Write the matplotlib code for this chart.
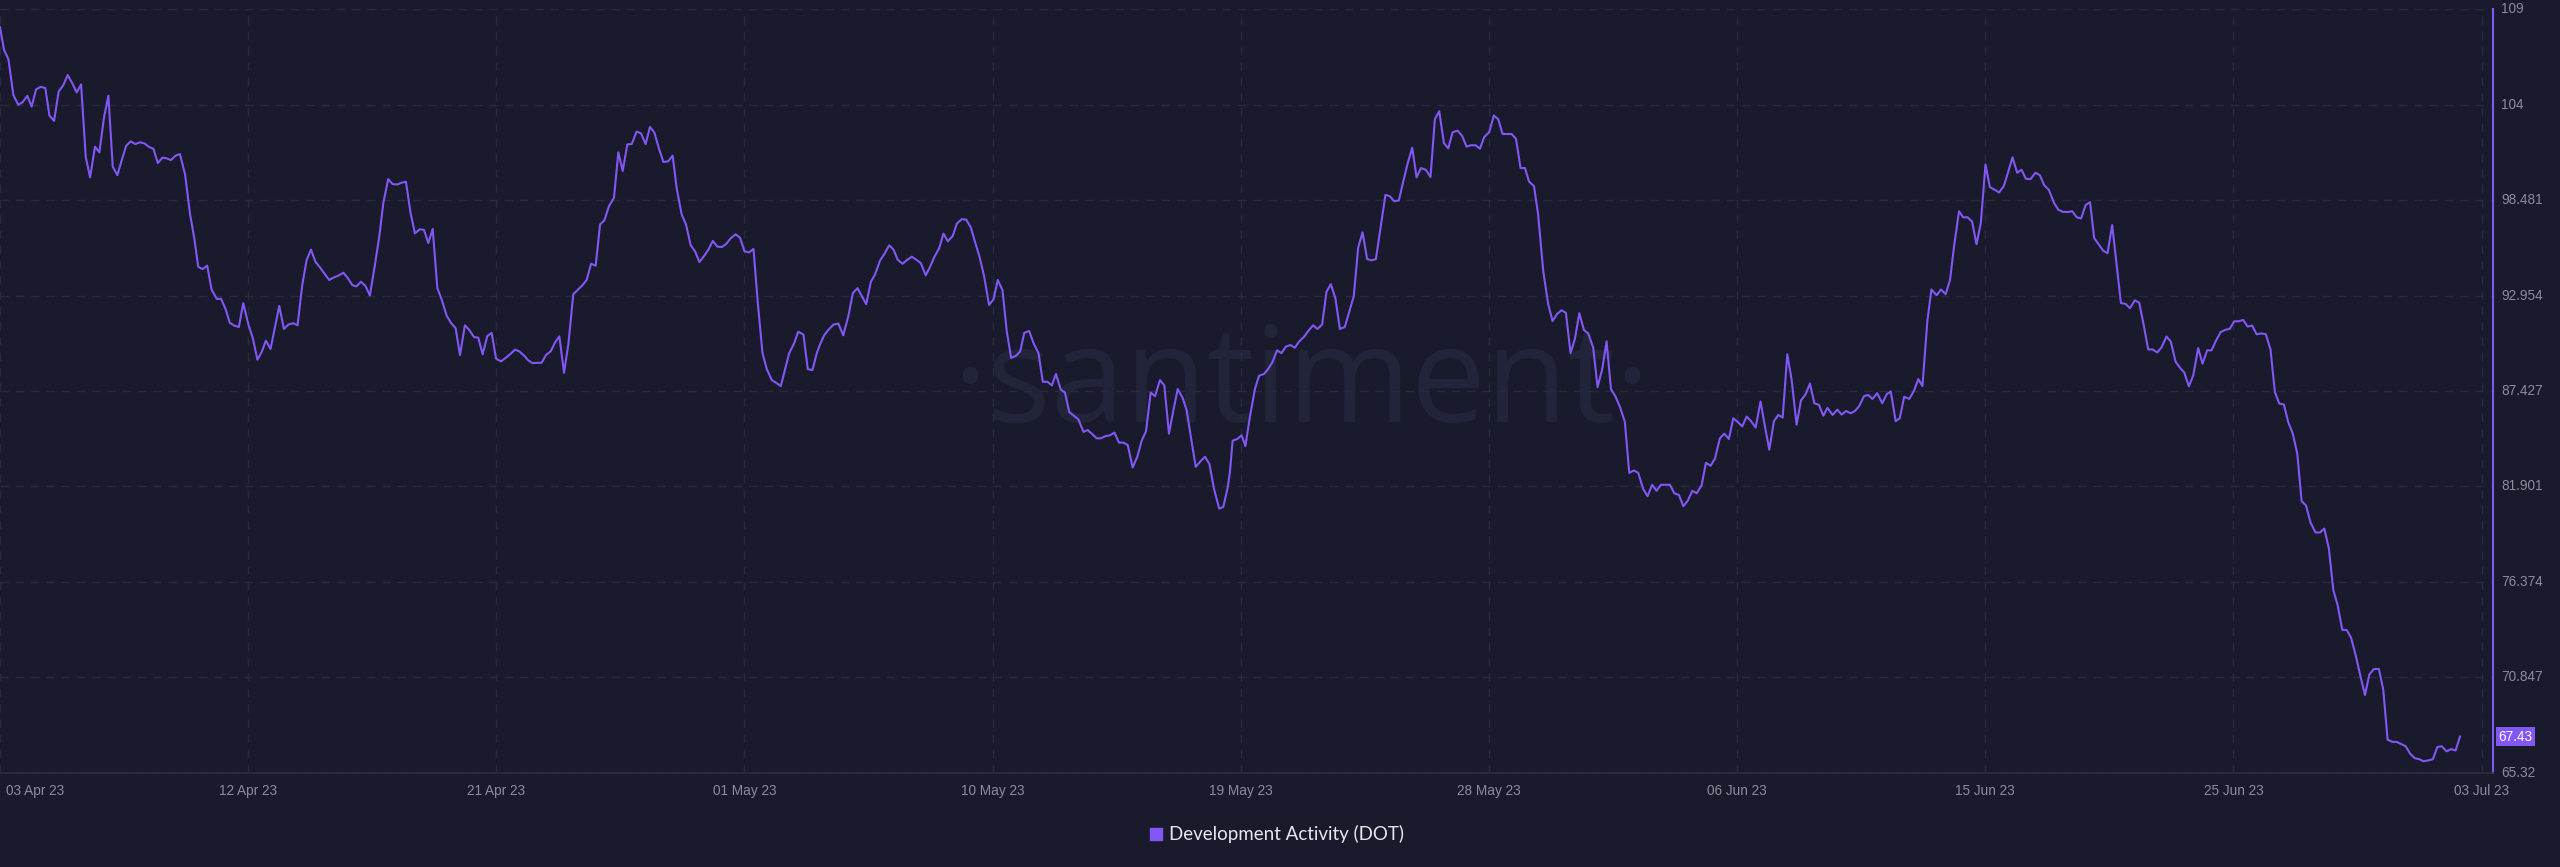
import numpy as np
import pandas as pd
import matplotlib
matplotlib.use("Agg")
import matplotlib.pyplot as plt
import matplotlib.transforms as mtransforms

# Development activity (DOT): days since 03 Apr 2023 and value
days = [
    0.00, 0.15, 0.31, 0.49, 0.67, 0.83, 1.00, 1.16, 1.32, 1.49, 1.66, 1.81, 1.98, 2.15, 2.32, 2.48,
    2.65, 2.81, 2.97, 3.14, 3.30, 3.48, 3.64, 3.81, 3.97, 4.13, 4.30, 4.46, 4.62, 4.79, 4.95, 5.13,
    5.29, 5.46, 5.62, 5.78, 5.95, 6.11, 6.26, 6.43, 6.59, 6.78, 6.96, 7.12, 7.26, 7.42, 7.59, 7.75,
    7.94, 8.10, 8.27, 8.42, 8.58, 8.75, 8.91, 9.10, 9.26, 9.43, 9.58, 9.74, 9.91, 10.07, 10.23, 10.40,
    10.56, 10.74, 10.90, 11.07, 11.23, 11.39, 11.56, 11.72, 11.88, 12.06, 12.23, 12.39, 12.58, 12.74,
    12.91, 13.06, 13.22, 13.39, 13.55, 13.74, 13.90, 14.04, 14.22, 14.38, 14.55, 14.71, 14.87, 15.04,
    15.20, 15.38,
    15.53, 15.69, 15.85, 16.02, 16.18, 16.36, 16.52, 16.69, 16.85, 17.03, 17.19, 17.36, 17.52, 17.68,
    17.85, 18.01, 18.17, 18.35, 18.52, 18.68, 18.87, 19.02, 19.20, 19.35, 19.51, 19.68, 19.84, 20.00,
    20.17, 20.33, 20.49, 20.66, 20.82, 21.00, 21.16, 21.33, 21.49, 21.65, 21.82, 21.98, 22.14, 22.31,
    22.49, 22.65, 22.81, 22.98, 23.14, 23.32, 23.48, 23.65, 23.81, 23.97, 24.14, 24.30, 24.48, 24.64,
    24.79, 24.97, 25.13, 25.30, 25.46, 25.62, 25.79, 25.95, 26.11, 26.28, 26.44, 26.59, 26.77, 26.95,
    27.11, 27.27, 27.44, 27.60, 27.76, 27.93, 28.09, 28.27, 28.43, 28.60, 28.76, 28.91, 29.09, 29.24,
    29.43, 29.59, 29.76, 29.92,
    30.04, 30.19, 30.34, 30.53, 30.71, 30.89, 31.08, 31.24, 31.41, 31.57, 31.73, 31.90, 32.05, 32.24,
    32.40, 32.57, 32.73, 32.88, 33.06, 33.21, 33.40, 33.56, 33.73, 33.91, 34.07, 34.23, 34.40, 34.56,
    34.72, 34.90, 35.05, 35.23, 35.39, 35.56, 35.72, 35.88, 36.05, 36.23, 36.39, 36.55, 36.72, 36.88,
    37.04, 37.22, 37.37, 37.52, 37.70, 37.85, 38.04, 38.20, 38.37, 38.53, 38.68, 38.86, 39.01, 39.17,
    39.34, 39.50, 39.69, 39.84, 40.02, 40.17, 40.33, 40.50, 40.66, 40.82, 40.99, 41.15, 41.31, 41.49,
    41.66, 41.82, 41.98, 42.15, 42.31, 42.49, 42.65, 42.82, 42.98, 43.14, 43.32, 43.47, 43.63, 43.80,
    43.98, 44.14, 44.30, 44.47, 44.66, 44.81, 44.96,
    45.05, 45.15, 45.32, 45.48, 45.62, 45.78, 45.97, 46.12, 46.30, 46.45, 46.61, 46.78, 46.94, 47.10,
    47.27, 47.43, 47.59, 47.76, 47.92, 48.10, 48.26, 48.43, 48.59, 48.75, 48.92, 49.08, 49.26, 49.42,
    49.59, 49.75, 49.91, 50.08, 50.24, 50.40, 50.57, 50.75, 50.91, 51.07, 51.24, 51.40, 51.56, 51.73,
    51.89, 52.05, 52.23, 52.40, 52.56, 52.72, 52.89, 53.05, 53.21, 53.39, 53.56, 53.72, 53.88, 54.05,
    54.21, 54.37, 54.55, 54.72, 54.88, 55.04, 55.21, 55.37, 55.53, 55.70, 55.86, 56.01, 56.19, 56.34,
    56.53, 56.71, 56.87, 57.04, 57.20, 57.36, 57.53, 57.69, 57.85, 58.02, 58.18, 58.36, 58.52, 58.69,
    58.85, 59.01, 59.18, 59.34, 59.52, 59.68, 59.85, 60.01,
    60.19, 60.35, 60.52, 60.68, 60.84, 61.01, 61.17, 61.33, 61.50, 61.66, 61.82, 61.99, 62.15, 62.33,
    62.49, 62.66, 62.82, 63.00, 63.16, 63.33, 63.49, 63.65, 63.82, 63.98, 64.14, 64.31, 64.49, 64.65,
    64.81, 64.98, 65.14, 65.30, 65.47, 65.63, 65.81, 65.97, 66.14, 66.30, 66.46, 66.63, 66.79, 66.94,
    67.13, 67.30, 67.46, 67.62, 67.79, 67.95, 68.10, 68.28, 68.43, 68.59, 68.76, 68.95, 69.11, 69.26,
    69.44, 69.59, 69.75, 69.94, 70.11, 70.27, 70.42, 70.60, 70.75, 70.94, 71.10, 71.27, 71.43, 71.58,
    71.76, 71.91, 72.07, 72.24, 72.40, 72.56, 72.73, 72.89, 73.07, 73.23, 73.40, 73.56, 73.72, 73.89,
    74.05, 74.21, 74.38, 74.56, 74.72, 74.88, 75.05,
    75.24, 75.40, 75.58, 75.76, 75.91, 76.07, 76.23, 76.40, 76.56, 76.71, 76.88, 77.04, 77.20, 77.37,
    77.53, 77.69, 77.86, 78.02, 78.20, 78.36, 78.53, 78.69, 78.85, 79.02, 79.18, 79.36, 79.52, 79.69,
    79.85, 80.01, 80.18, 80.34, 80.52, 80.68, 80.85, 81.01, 81.17, 81.34, 81.50, 81.68, 81.84, 82.01,
    82.17, 82.33, 82.50, 82.66, 82.84, 83.00, 83.17, 83.33, 83.49, 83.66, 83.82, 83.98, 84.15, 84.31,
    84.47, 84.64, 84.82, 84.98, 85.14, 85.31, 85.47, 85.63, 85.80, 85.96, 86.12, 86.29, 86.45, 86.63,
    86.79, 86.96, 87.14, 87.30, 87.46, 87.63, 87.79, 87.95, 88.12, 88.28, 88.45, 88.62, 88.77, 88.95,
    89.12, 89.28, 89.44, 89.62, 89.78, 89.95, 90.11,
]
values = [
    108.48, 107.16, 106.62, 104.55, 103.99, 104.14, 104.51, 103.89, 104.88, 105.03, 104.96, 103.37,
    103.06, 104.76, 105.13, 105.71, 105.23, 104.71, 105.17, 100.99, 99.79, 101.57, 101.24, 103.27,
    104.51, 100.41, 99.92, 100.79, 101.61, 101.88, 101.72, 101.82, 101.76, 101.55, 101.45, 100.62,
    100.93, 100.89, 100.79, 101.05, 101.14, 99.96, 97.68, 96.24, 94.62, 94.48, 94.68, 93.30, 92.76,
    92.76, 92.14, 91.37, 91.21, 91.13, 92.51, 91.27, 90.49, 89.24, 89.66, 90.34, 89.86, 91.10, 92.35,
    91.02, 91.27, 91.35, 91.23, 93.54, 94.99, 95.61, 94.89, 94.58, 94.23, 93.85, 94.00, 94.10, 94.27,
    93.96, 93.55, 93.48, 93.75, 93.50, 92.96, 94.79, 96.44, 98.30, 99.69, 99.40, 99.38, 99.48, 99.54,
    97.72, 96.55, 96.79,
    96.75, 95.99, 96.81, 93.38, 92.72, 91.79, 91.37, 91.06, 89.51, 91.23, 90.96, 90.55, 90.51, 89.55,
    90.61, 90.79, 89.30, 89.14, 89.34, 89.55, 89.82, 89.72, 89.47, 89.20, 89.04, 89.06, 89.06, 89.51,
    89.72, 90.23, 90.59, 88.48, 90.14, 93.03, 93.28, 93.54, 93.85, 94.79, 94.68, 97.06, 97.31, 98.14,
    98.61, 101.24, 100.16, 101.70, 101.72, 102.44, 102.34, 101.72, 102.71, 102.38, 101.45, 100.68,
    100.72, 101.05, 99.13, 97.64, 97.06, 95.86, 95.51, 94.89, 95.24, 95.61, 96.11, 95.78, 95.76, 95.92,
    96.27, 96.50, 96.29, 95.51, 95.45, 95.65, 92.51, 89.62, 88.69, 88.06, 87.90, 87.71, 88.69, 89.62,
    90.19, 90.86, 90.69, 88.69, 88.64, 89.62,
    90.13, 90.65, 90.96, 91.27, 91.33, 90.65, 91.79, 93.09, 93.38, 92.92, 92.45, 93.75, 94.16, 94.99,
    95.37, 95.86, 95.61, 95.03, 94.79, 94.99, 95.20, 95.03, 94.83, 94.12, 94.62, 95.20, 95.68, 96.54,
    96.09, 96.40, 97.12, 97.37, 97.35, 96.90, 96.03, 95.20, 94.06, 92.41, 92.72, 93.85, 93.27, 90.86,
    89.34, 89.47, 89.72, 90.79, 90.90, 90.23, 89.62, 87.96, 87.96, 87.75, 88.41, 87.50, 87.34, 86.20,
    85.99, 85.79, 85.06, 85.17, 84.92, 84.69, 84.69, 84.82, 84.86, 85.02, 84.44, 84.44, 84.30, 83.00,
    83.62, 84.55, 85.10, 87.34, 87.13, 88.06, 87.75, 84.96, 86.30, 87.54, 87.03, 86.30, 84.69, 83.04,
    83.37, 83.62, 83.21, 81.76, 80.62, 80.72, 81.76,
    82.69, 84.55, 84.65, 84.86, 84.24, 85.89, 87.55, 88.31, 88.41, 88.69, 89.10, 89.78, 89.62, 89.99,
    90.09, 89.93, 90.30, 90.55, 90.90, 91.23, 91.02, 91.27, 93.17, 93.61, 92.76, 91.02, 91.13, 91.99,
    92.92, 95.72, 96.61, 95.06, 94.99, 95.06, 96.86, 98.78, 98.70, 98.41, 98.45, 99.54, 100.58, 101.51,
    99.79, 100.33, 100.23, 99.81, 103.16, 103.62, 101.78, 101.47, 102.40, 102.50, 102.19, 101.57,
    101.65, 101.65, 101.45, 102.13, 102.40, 103.37, 103.16, 102.30, 102.30, 102.30, 102.03, 100.33,
    100.33, 99.54, 99.29, 97.68, 94.37, 92.45, 91.48, 91.89, 92.10, 91.95, 89.62, 90.44, 91.93, 90.96,
    90.75, 89.93, 87.65, 88.69, 90.30, 87.55, 87.09, 86.51, 85.64, 82.69, 82.83, 82.69,
    81.76, 81.34, 82.00, 81.65, 82.00, 82.00, 82.00, 81.51, 81.41, 80.76, 81.07, 81.65, 81.51, 81.96,
    83.27, 83.10, 83.52, 84.69, 84.96, 84.65, 85.85, 85.64, 85.38, 85.95, 85.68, 85.31, 86.82, 85.38,
    84.03, 85.68, 86.04, 85.89, 89.55, 88.06, 85.48, 86.88, 87.24, 87.86, 86.72, 86.62, 86.00, 86.45,
    86.04, 86.35, 86.06, 86.27, 86.14, 86.27, 86.55, 87.13, 87.20, 86.97, 87.30, 86.72, 87.24, 87.40,
    85.68, 85.85, 87.09, 86.97, 87.44, 88.12, 87.71, 91.48, 93.30, 92.97, 93.30, 93.03, 93.85, 95.82,
    97.83, 97.48, 97.48, 97.23, 95.92, 97.16, 100.54, 99.23, 99.07, 98.92, 99.29, 100.10, 100.95,
    100.06, 100.23, 99.71, 99.69, 100.06, 99.92, 99.34, 99.07,
    98.31, 97.91, 97.79, 97.79, 97.83, 97.48, 97.41, 98.19, 98.36, 96.28, 95.90, 95.55, 95.40, 97.03,
    94.77, 92.52, 92.47, 92.22, 92.67, 92.54, 91.21, 89.83, 89.83, 89.66, 89.96, 90.58, 90.28, 89.13,
    88.78, 88.50, 87.70, 88.33, 89.91, 89.01, 89.78, 89.78, 90.33, 90.83, 90.96, 91.03, 91.46, 91.46,
    91.54, 91.16, 91.21, 90.71, 90.76, 90.71, 89.83, 87.37, 86.70, 86.65, 85.62, 84.99, 83.81, 81.05,
    80.80, 79.80, 79.24, 79.24, 79.47, 78.29, 75.91, 75.03, 73.60, 73.60, 73.15, 72.14, 71.02, 69.83,
    71.02, 71.34, 71.34, 70.14, 67.25, 67.12, 67.12, 67.00, 66.87, 66.45, 66.18, 66.12, 66.00, 66.05,
    66.12, 66.82, 66.87, 66.57, 66.70, 66.62, 67.43,
]

start = pd.Timestamp("2023-04-03")
dates = start + pd.to_timedelta(days, unit="D")

tick_labels = ["03 Apr 23", "12 Apr 23", "21 Apr 23", "01 May 23", "10 May 23", "19 May 23",
               "28 May 23", "06 Jun 23", "15 Jun 23", "25 Jun 23", "03 Jul 23"]
y_ticks = [65.32, 70.847, 76.374, 81.901, 87.427, 92.954, 98.481, 104.008, 109.535]
y_tick_labels = ["65.32", "70.847", "76.374", "81.901", "87.427", "92.954", "98.481", "104", "109"]
series_name = "Development Activity (DOT)"
last_value = values[-1]

bg = "#191b2c"
line_color = "#8257f5"
grid_color = "#282b3f"
text_color = "#8a8c9c"

plt.rcParams["font.family"] = ["Liberation Sans", "DejaVu Sans"]

fig = plt.figure(figsize=(25.6, 8.67), dpi=100, facecolor=bg)
ax = fig.add_axes([0.0, 1 - 773 / 867, 2493 / 2560, (773 - 9) / 867])
ax.set_facecolor(bg)

# watermark
ax.text(0.522, 0.505, "·santiment·", transform=ax.transAxes, ha="center", va="center",
        fontsize=96, color="#22253a", family=["Open Sans", "DejaVu Sans"], zorder=0)

ax.plot(dates, values, color=line_color, lw=1.5, zorder=3)

ax.set_xlim(start, start + pd.Timedelta(days=91.32))
ax.set_ylim(y_ticks[0], y_ticks[-1])

tick_pos = [start + pd.Timedelta(days=d) for d in np.linspace(0, 90.9, len(tick_labels))]
ax.set_xticks(tick_pos)
ax.set_xticklabels(tick_labels)
ax.set_yticks(y_ticks)
ax.set_yticklabels(y_tick_labels)

ax.yaxis.tick_right()
ax.tick_params(axis="both", length=0, colors=text_color, labelsize=9.8)
ax.tick_params(axis="x", pad=8)
ax.tick_params(axis="y", pad=6)
for lab in ax.get_yticklabels():
    lab.set_verticalalignment("center")
first = ax.get_xticklabels()[0]
first.set_horizontalalignment("left")
first.set_transform(first.get_transform() + mtransforms.ScaledTranslation(6 / 100, 0, fig.dpi_scale_trans))

ax.grid(True, color=grid_color, linestyle=(0, (6, 5)), linewidth=1.0, zorder=1)

for side in ["top", "left"]:
    ax.spines[side].set_visible(False)
ax.spines["bottom"].set_color("#2c2f44")
ax.spines["bottom"].set_linewidth(1.2)
ax.spines["right"].set_color(line_color)
ax.spines["right"].set_linewidth(1.5)

# last value badge
ax.annotate(f"{last_value:.2f}", xy=(1.0, last_value), xycoords=("axes fraction", "data"),
            xytext=(4, 0), textcoords="offset points", ha="left", va="center",
            fontsize=9.8, color="white",
            bbox=dict(boxstyle="square,pad=0.2", fc=line_color, ec="none"))

# legend
fig.patches.append(plt.Rectangle((1150 / 2560, 1 - 840 / 867), 12 / 2560, 12 / 867,
                                 transform=fig.transFigure, color=line_color, figure=fig))
fig.text(1169 / 2560, 1 - 834 / 867, series_name, ha="left", va="center",
         fontsize=13.5, color="#e6e6ee", family=["Lato", "DejaVu Sans"])

fig.savefig("out.png", dpi=100, facecolor=bg)
